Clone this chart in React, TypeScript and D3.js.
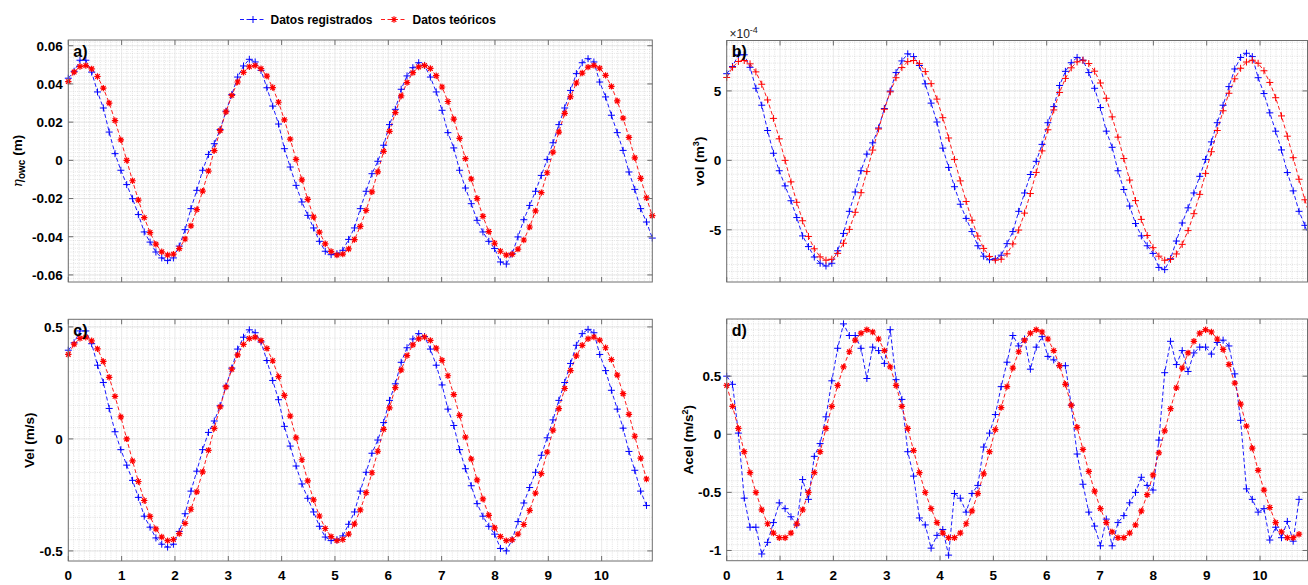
import React from 'react';
import * as d3 from 'd3';

const W = 1308;
const H = 585;
const DT = 0.1095; // sampling step (s)
const FONT = '"Liberation Sans", Arial, Helvetica, sans-serif';

// ---- tick labels ----
const xTicks = [0, 1, 2, 3, 4, 5, 6, 7, 8, 9, 10];
const etaTicks = [-0.06, -0.04, -0.02, 0, 0.02, 0.04, 0.06];
const volTicks = [-5, 0, 5];
const velTicks = [-0.5, 0, 0.5];
const acelTicks = [-1, -0.5, 0, 0.5];

// ---- a) eta_owc (m) ----
const etaReg = [0.043,0.0466,0.0524,0.0524,0.0462,0.0358,0.0274,0.0148,0.0035,-0.0052,
-0.0127,-0.0201,-0.0284,-0.0375,-0.0428,-0.048,-0.0511,-0.0525,-0.0511,-0.0449,
-0.0363,-0.0253,-0.0157,-0.0052,0.0031,0.0087,0.0161,0.0257,0.0344,0.0436,
0.0494,0.0529,0.0515,0.0471,0.038,0.0284,0.019,0.0061,-0.0035,-0.0131,
-0.0218,-0.0288,-0.0354,-0.0424,-0.0476,-0.0494,-0.0489,-0.0471,-0.0414,-0.0354,
-0.0253,-0.0162,-0.007,-0.0005,0.0079,0.0187,0.0267,0.0372,0.0442,0.0485,
0.0511,0.0497,0.0436,0.0358,0.0262,0.0145,0.0065,-0.0052,-0.0145,-0.0227,
-0.0314,-0.0375,-0.0424,-0.0462,-0.0532,-0.0543,-0.0489,-0.0401,-0.0311,-0.0236,
-0.0162,-0.0079,0.0005,0.0092,0.0187,0.0274,0.0366,0.0454,0.0511,0.0532,
0.0515,0.041,0.0332,0.0236,0.0145,0.0052,-0.0061,-0.0152,-0.0253,-0.0323,
-0.0407];
const etaTeo = [0.0412,0.0462,0.0491,0.0496,0.0479,0.0439,0.0378,0.03,0.0208,0.0107,
0,-0.0107,-0.0208,-0.03,-0.0378,-0.0439,-0.0479,-0.0496,-0.0491,-0.0462,
-0.0412,-0.0343,-0.0258,-0.0161,-0.0056,0.0051,0.0156,0.0254,0.034,0.041,
0.0461,0.049,0.0496,0.048,0.0441,0.0381,0.0304,0.0212,0.0111,0.0005,
-0.0102,-0.0204,-0.0297,-0.0376,-0.0437,-0.0477,-0.0496,-0.0491,-0.0464,-0.0415,
-0.0346,-0.0262,-0.0165,-0.006,0.0047,0.0152,0.025,0.0337,0.0407,0.0459,
0.0489,0.0497,0.0481,0.0443,0.0384,0.0308,0.0216,0.0115,0.0009,-0.0098,
-0.02,-0.0293,-0.0373,-0.0434,-0.0476,-0.0496,-0.0492,-0.0465,-0.0417,-0.0349,
-0.0265,-0.0169,-0.0065,0.0043,0.0148,0.0246,0.0333,0.0405,0.0457,0.0488,
0.0497,0.0482,0.0445,0.0387,0.0311,0.0221,0.012,0.0013,-0.0094,-0.0196,
-0.029];

// ---- b) vol (m^3), in units of 1e-4 ----
const volReg = [6.24,6.76,7.6,7.6,6.7,5.19,3.97,2.15,0.51,-0.75,
-1.84,-2.91,-4.12,-5.44,-6.21,-6.96,-7.41,-7.61,-7.41,-6.51,
-5.26,-3.67,-2.28,-0.75,0.45,1.26,2.33,3.73,4.99,6.32,
7.16,7.67,7.47,6.83,5.51,4.12,2.76,0.88,-0.51,-1.9,
-3.16,-4.18,-5.13,-6.15,-6.9,-7.16,-7.09,-6.83,-6,-5.13,
-3.67,-2.35,-1.02,-0.07,1.15,2.71,3.87,5.39,6.41,7.03,
7.41,7.21,6.32,5.19,3.8,2.1,0.94,-0.75,-2.1,-3.29,
-4.55,-5.44,-6.15,-6.7,-7.71,-7.87,-7.09,-5.81,-4.51,-3.42,
-2.35,-1.15,0.07,1.33,2.71,3.97,5.31,6.58,7.41,7.71,
7.47,5.95,4.81,3.42,2.1,0.75,-0.88,-2.2,-3.67,-4.68,
-5.9];
const volTeo = [5.97,6.7,7.12,7.19,6.95,6.37,5.48,4.35,3.02,1.55,
0,-1.55,-3.02,-4.35,-5.48,-6.37,-6.95,-7.19,-7.12,-6.7,
-5.97,-4.97,-3.74,-2.33,-0.81,0.74,2.26,3.68,4.93,5.95,
6.68,7.11,7.19,6.96,6.39,5.52,4.41,3.07,1.61,0.07,
-1.48,-2.96,-4.31,-5.45,-6.34,-6.92,-7.19,-7.12,-6.73,-6.02,
-5.02,-3.8,-2.39,-0.87,0.68,2.2,3.63,4.89,5.9,6.66,
7.09,7.21,6.97,6.42,5.57,4.47,3.13,1.67,0.13,-1.42,
-2.9,-4.25,-5.41,-6.29,-6.9,-7.19,-7.13,-6.74,-6.05,-5.06,
-3.84,-2.45,-0.94,0.62,2.15,3.57,4.83,5.87,6.63,7.08,
7.21,6.99,6.45,5.61,4.51,3.2,1.74,0.19,-1.36,-2.84,
-4.21];

// ---- c) Vel (m/s) ----
const velReg = [0.396,0.429,0.482,0.482,0.425,0.329,0.252,0.136,0.032,-0.048,
-0.117,-0.185,-0.261,-0.345,-0.394,-0.442,-0.47,-0.483,-0.47,-0.413,
-0.334,-0.233,-0.144,-0.048,0.029,0.08,0.148,0.236,0.316,0.401,
0.454,0.487,0.474,0.433,0.35,0.261,0.175,0.056,-0.032,-0.121,
-0.201,-0.265,-0.326,-0.39,-0.438,-0.454,-0.45,-0.433,-0.381,-0.326,
-0.233,-0.149,-0.064,-0.005,0.073,0.172,0.246,0.342,0.407,0.446,
0.47,0.457,0.401,0.329,0.241,0.133,0.06,-0.048,-0.133,-0.209,
-0.289,-0.345,-0.39,-0.425,-0.489,-0.5,-0.45,-0.369,-0.286,-0.217,
-0.149,-0.073,0.005,0.085,0.172,0.252,0.337,0.418,0.47,0.489,
0.474,0.377,0.305,0.217,0.133,0.048,-0.056,-0.14,-0.233,-0.297];
const velTeo = [0.377,0.423,0.449,0.454,0.438,0.402,0.346,0.275,0.19,0.098,
0,-0.098,-0.19,-0.275,-0.346,-0.402,-0.438,-0.454,-0.449,-0.423,
-0.377,-0.314,-0.236,-0.147,-0.051,0.047,0.143,0.232,0.311,0.375,
0.422,0.448,0.454,0.439,0.404,0.349,0.278,0.194,0.102,0.005,
-0.093,-0.187,-0.272,-0.344,-0.4,-0.436,-0.454,-0.449,-0.425,-0.38,
-0.317,-0.24,-0.151,-0.055,0.043,0.139,0.229,0.308,0.372,0.42,
0.447,0.455,0.44,0.405,0.351,0.282,0.198,0.105,0.008,-0.09,
-0.183,-0.268,-0.341,-0.397,-0.436,-0.454,-0.45,-0.425,-0.382,-0.319,
-0.242,-0.155,-0.059,0.039,0.135,0.225,0.305,0.371,0.418,0.447,
0.455,0.441,0.407,0.354,0.285,0.202,0.11,0.012,-0.086,-0.179];

// ---- d) Acel (m/s^2) ----
const acelReg = [0.5,0.43,0.01,-0.55,-0.8,-0.8,-1.03,-0.93,-0.76,-0.59,
-0.64,-0.71,-0.78,-0.39,-0.56,-0.19,-0.08,0.15,0.46,0.74,
0.95,0.85,0.85,0.74,0.48,0.75,0.72,0.61,0.9,0.47,
0.3,-0.15,-0.36,-0.72,-0.78,-0.98,-0.87,-0.82,-1.04,-0.51,
-0.55,-0.67,-0.51,-0.44,-0.11,0.01,0.17,0.41,0.62,0.85,
0.76,0.82,0.56,0.75,0.84,0.67,0.64,0.59,0.59,0.25,
-0.17,-0.43,-0.67,-0.79,-0.96,-0.73,-0.96,-0.76,-0.7,-0.59,
-0.5,-0.37,-0.44,-0.48,-0.05,0.53,0.8,0.6,0.72,0.54,
0.7,0.75,0.75,0.69,0.79,0.81,0.76,0.52,0.12,-0.47,
-0.56,-0.67,-0.64,-0.91,-0.8,-0.89,-0.75,-0.92,-0.56];
const acelTeo = [0.42,0.24,0.05,-0.15,-0.33,-0.5,-0.65,-0.77,-0.85,-0.89,
-0.89,-0.85,-0.77,-0.65,-0.5,-0.33,-0.15,0.05,0.24,0.42,
0.58,0.71,0.81,0.87,0.9,0.88,0.82,0.72,0.58,0.42,
0.24,0.05,-0.14,-0.33,-0.5,-0.64,-0.76,-0.85,-0.89,-0.89,
-0.85,-0.77,-0.66,-0.51,-0.34,-0.15,0.04,0.23,0.41,0.57,
0.71,0.81,0.87,0.9,0.88,0.82,0.72,0.59,0.43,0.25,
0.06,-0.13,-0.32,-0.49,-0.64,-0.76,-0.84,-0.89,-0.89,-0.85,
-0.78,-0.66,-0.52,-0.35,-0.16,0.03,0.22,0.4,0.57,0.7,
0.8,0.87,0.9,0.88,0.82,0.73,0.6,0.44,0.26,0.07,
-0.12,-0.31,-0.48,-0.63,-0.76,-0.84,-0.89,-0.89,-0.86];

const BLUE = '#0000ff';
const RED = '#ff0000';
const AXIS = '#6e6e6e';

type MarkerKind = 'plus' | 'star';

function plusPath(cx: number, cy: number, r: number) {
  return `M${cx - r},${cy}H${cx + r}M${cx},${cy - r}V${cy + r}`;
}
function starPath(cx: number, cy: number, r: number) {
  const d = r * 0.72;
  return plusPath(cx, cy, r) + `M${cx - d},${cy - d}L${cx + d},${cy + d}M${cx - d},${cy + d}L${cx + d},${cy - d}`;
}

type Spec = {
  id: string;
  left: number; right: number; top: number; bottom: number;
  xMax: number; yMin: number; yMax: number;
  yTicks: number[]; yFmt: (v: number) => string; yMinor: number;
  letter: string; xLabels: boolean; teoMarker: MarkerKind;
  reg: number[]; teo: number[];
  yLabel: React.ReactNode; yLabelX: number;
};

function isMinor(v: number) {
  return Math.abs(v - Math.round(v)) > 1e-6;
}

function Panel({ s }: { s: Spec }) {
  const x = d3.scaleLinear().domain([0, s.xMax]).range([s.left, s.right]);
  const y = d3.scaleLinear().domain([s.yMin, s.yMax]).range([s.bottom, s.top]);
  const line = d3.line<number>().x((_, i) => x(i * DT)).y((v) => y(v));

  const minorX = d3.range(1, Math.floor(s.xMax * 10 + 1e-6) + 1)
    .map((k) => k / 10)
    .filter(isMinor);
  const yStart = Math.ceil(s.yMin / s.yMinor);
  const yEnd = Math.floor(s.yMax / s.yMinor);
  const minorY = d3.range(yStart, yEnd + 1).map((k) => k * s.yMinor);

  const markers = (vals: number[], kind: MarkerKind, r: number) =>
    vals
      .map((v, i) => [i * DT, v] as [number, number])
      .filter(([t]) => t <= s.xMax + 1e-6)
      .map(([t, v]) => (kind === 'plus' ? plusPath(x(t), y(v), r) : starPath(x(t), y(v), r)))
      .join('');

  const clipId = `clip-${s.id}`;
  const tl = 5;
  const cy = (s.top + s.bottom) / 2;

  return (
    <g>
      <defs>
        <clipPath id={clipId}>
          <rect x={s.left} y={s.top} width={s.right - s.left} height={s.bottom - s.top} />
        </clipPath>
      </defs>
      <rect x={s.left} y={s.top} width={s.right - s.left} height={s.bottom - s.top} fill="#fff" />
      {/* minor grid */}
      <g stroke="#c4c4c4" strokeWidth={0.5} strokeDasharray="1 1.2">
        {minorX.map((v) => (
          <line key={'mx' + v} x1={x(v)} x2={x(v)} y1={s.top} y2={s.bottom} />
        ))}
        {minorY.map((v) => (
          <line key={'my' + v} x1={s.left} x2={s.right} y1={y(v)} y2={y(v)} />
        ))}
      </g>
      {/* major grid */}
      <g stroke="#dcdcdc" strokeWidth={0.6}>
        {xTicks.filter((v) => v <= s.xMax).map((v) => (
          <line key={'gx' + v} x1={x(v)} x2={x(v)} y1={s.top} y2={s.bottom} />
        ))}
        {s.yTicks.map((v) => (
          <line key={'gy' + v} x1={s.left} x2={s.right} y1={y(v)} y2={y(v)} />
        ))}
      </g>
      {/* data */}
      <g clipPath={`url(#${clipId})`} fill="none">
        <path d={line(s.reg) || ''} stroke={BLUE} strokeWidth={0.9} strokeDasharray="4 2.5" />
        <path d={line(s.teo) || ''} stroke={RED} strokeWidth={0.9} strokeDasharray="4 2.5" />
      </g>
      <path d={markers(s.reg, 'plus', 3.5)} stroke={BLUE} strokeWidth={1} fill="none" />
      <path
        d={markers(s.teo, s.teoMarker, s.teoMarker === 'star' ? 3.2 : 3.5)}
        stroke={RED}
        strokeWidth={s.teoMarker === 'star' ? 1.2 : 1}
        fill="none"
      />
      {/* box */}
      <rect x={s.left} y={s.top} width={s.right - s.left} height={s.bottom - s.top} fill="none" stroke={AXIS} strokeWidth={1} />
      {/* ticks */}
      <g stroke={AXIS} strokeWidth={1}>
        {xTicks.filter((v) => v <= s.xMax).map((v) => (
          <g key={'tx' + v}>
            <line x1={x(v)} x2={x(v)} y1={s.bottom} y2={s.bottom - tl} />
            <line x1={x(v)} x2={x(v)} y1={s.top} y2={s.top + tl} />
          </g>
        ))}
        {s.yTicks.map((v) => (
          <g key={'ty' + v}>
            <line x1={s.left} x2={s.left + tl} y1={y(v)} y2={y(v)} />
            <line x1={s.right} x2={s.right - tl} y1={y(v)} y2={y(v)} />
          </g>
        ))}
      </g>
      {/* tick labels */}
      <g fontFamily={FONT} fontWeight="bold" fontSize={13.5} fill="#000">
        {s.yTicks.map((v) => (
          <text key={'ly' + v} x={s.left - 5.5} y={y(v)} dy="0.36em" textAnchor="end">
            {s.yFmt(v)}
          </text>
        ))}
        {s.xLabels &&
          xTicks.filter((v) => v <= s.xMax).map((v) => (
            <text key={'lx' + v} x={x(v)} y={580} textAnchor="middle">
              {String(v)}
            </text>
          ))}
      </g>
      {/* panel letter */}
      <text x={s.left + 5} y={s.top + 16.5} fontFamily={FONT} fontWeight="bold" fontSize={16} fill="#000">
        {s.letter}
      </text>
      {/* y label */}
      <text
        transform={`translate(${s.yLabelX},${cy}) rotate(-90)`}
        textAnchor="middle"
        fontFamily={FONT}
        fontWeight="bold"
        fontSize={13.5}
        fill="#000"
      >
        {s.yLabel}
      </text>
    </g>
  );
}

function Legend() {
  const yL = 19.5;
  return (
    <g fontFamily={FONT} fontWeight="bold" fontSize={12} fill="#000">
      <line x1={240} x2={266} y1={yL} y2={yL} stroke={BLUE} strokeWidth={0.9} strokeDasharray="4 2.5" />
      <path d={plusPath(253, yL, 3.5)} stroke={BLUE} strokeWidth={1} />
      <text x={270.5} y={23.5}>Datos registrados</text>
      <line x1={381} x2={407} y1={yL} y2={yL} stroke={RED} strokeWidth={0.9} strokeDasharray="4 2.5" />
      <path d={starPath(394, yL, 3.2)} stroke={RED} strokeWidth={1.2} />
      <text x={412.5} y={23.5}>Datos teóricos</text>
    </g>
  );
}

const fmt2 = (v: number) => (v === 0 ? '0' : v.toFixed(2));
const fmtG = (v: number) => String(v);

export default function App() {
  const specs: Spec[] = [
    {
      id: 'a', left: 68.3, right: 652.3, top: 40, bottom: 282,
      xMax: 10.95, yMin: -0.0637, yMax: 0.063,
      yTicks: etaTicks, yFmt: fmt2, yMinor: 0.002,
      letter: 'a)', xLabels: false, teoMarker: 'star',
      reg: etaReg, teo: etaTeo, yLabelX: 22,
      yLabel: (
        <>
          <tspan fontFamily='"DejaVu Serif", serif' fontStyle="italic" fontWeight="normal">η</tspan>
          <tspan fontSize={10} dy={3}>owc</tspan>
          <tspan dy={-3}> (m)</tspan>
        </>
      ),
    },
    {
      id: 'b', left: 726.7, right: 1307.5, top: 40.5, bottom: 282,
      xMax: 10.89, yMin: -8.76, yMax: 8.63,
      yTicks: volTicks, yFmt: fmtG, yMinor: 0.5,
      letter: 'b)', xLabels: false, teoMarker: 'plus',
      reg: volReg, teo: volTeo, yLabelX: 704,
      yLabel: (
        <>
          <tspan>vol (m</tspan>
          <tspan fontSize={9} dy={-5}>3</tspan>
          <tspan dy={5}>)</tspan>
        </>
      ),
    },
    {
      id: 'c', left: 68.3, right: 652.3, top: 319.3, bottom: 561,
      xMax: 10.95, yMin: -0.545, yMax: 0.534,
      yTicks: velTicks, yFmt: fmtG, yMinor: 0.05,
      letter: 'c)', xLabels: true, teoMarker: 'star',
      reg: velReg, teo: velTeo, yLabelX: 34,
      yLabel: <tspan>Vel (m/s)</tspan>,
    },
    {
      id: 'd', left: 726.7, right: 1307.5, top: 319, bottom: 560.7,
      xMax: 10.89, yMin: -1.088, yMax: 0.992,
      yTicks: acelTicks, yFmt: fmtG, yMinor: 0.05,
      letter: 'd)', xLabels: true, teoMarker: 'star',
      reg: acelReg, teo: acelTeo, yLabelX: 693,
      yLabel: (
        <>
          <tspan>Acel (m/s</tspan>
          <tspan fontSize={9} dy={-5}>2</tspan>
          <tspan dy={5}>)</tspan>
        </>
      ),
    },
  ];

  return (
    <svg
      width={W}
      height={H}
      viewBox={`0 0 ${W} ${H}`}
      style={{ position: 'absolute', left: 0, top: 0, display: 'block' }}
    >
      <rect width={W} height={H} fill="#fff" />
      {specs.map((s) => (
        <Panel key={s.id} s={s} />
      ))}
      <Legend />
      <text x={729.5} y={37.5} fontFamily={FONT} fontSize={12} fill="#222">
        ×10
        <tspan fontSize={9} dy={-5}>-4</tspan>
      </text>
    </svg>
  );
}
